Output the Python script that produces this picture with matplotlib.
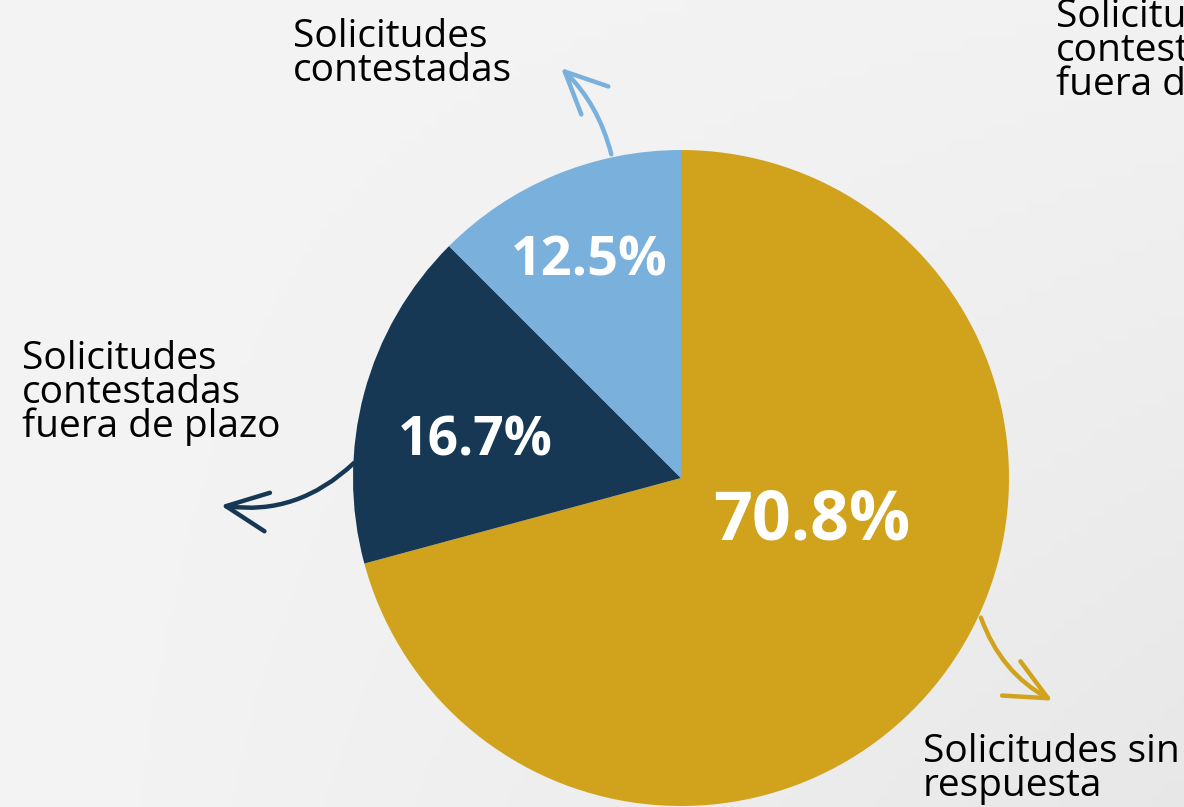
import numpy as np
import matplotlib
matplotlib.use("Agg")
import matplotlib.pyplot as plt
from matplotlib.patches import FancyArrowPatch

plt.rcParams['font.family'] = ['Open Sans', 'DejaVu Sans']

# data
labels = ['Solicitudes sin\nrespuesta', 'Solicitudes\ncontestadas\nfuera de plazo', 'Solicitudes\ncontestadas']
shares = [70.8, 16.7, 12.5]
pct_text = ['70.8%', '16.7%', '12.5%']
colors = ['#D1A21B', '#163854', '#7AB0DC']

W, H = 1184, 807
fig = plt.figure(figsize=(W / 100, H / 100), dpi=100)
ax = fig.add_axes([0, 0, 1, 1])

# soft grey background
grad = np.linspace(0, 1, 256)
bg = 0.955 - 0.05 * np.outer(np.linspace(0.2, 1, 64), grad)
ax.imshow(bg, cmap='gray', vmin=0, vmax=1, extent=[0, W, 0, H], aspect='auto', zorder=0)

cx, cy, r = 681, H - 478, 328
wedges, _ = ax.pie(shares, colors=colors, startangle=90, counterclock=False,
                   center=(cx, cy), radius=r, frame=True,
                   wedgeprops=dict(linewidth=0))
ax.set_xlim(0, W)
ax.set_ylim(0, H)
ax.set_aspect('equal')
ax.axis('off')

# percentage labels
ax.text(812, H - 522, pct_text[0], color='white', fontsize=49, fontweight='bold', ha='center', va='center')
ax.text(475, H - 442, pct_text[1], color='white', fontsize=38.5, fontweight='bold', ha='center', va='center')
ax.text(589, H - 262, pct_text[2], color='white', fontsize=39, fontweight='bold', ha='center', va='center')

# category labels
kw = dict(fontsize=28, color='black', ha='left', va='top', linespacing=0.85)
ax.text(923, H - 733, labels[0], **kw)
ax.text(22, H - 340, labels[1], **kw)
ax.text(293, H - 18, labels[2], **kw)
ax.text(1056, H + 2, labels[1], clip_on=False, **kw)

# curved arrows
arrows = [((980, H - 615), (1055, H - 702), 0.2, colors[0]),
          ((356, H - 461), (218, H - 505), -0.25, colors[1]),
          ((612, H - 157), (559, H - 66), 0.15, colors[2])]
for a, b, rad, c in arrows:
    ax.add_patch(FancyArrowPatch(a, b, connectionstyle=f'arc3,rad={rad}',
                                 arrowstyle='->,head_length=1.5,head_width=0.7',
                                 mutation_scale=20, color=c, lw=3.2,
                                 capstyle='round', joinstyle='round', zorder=3))

fig.savefig('out.png', dpi=100)
